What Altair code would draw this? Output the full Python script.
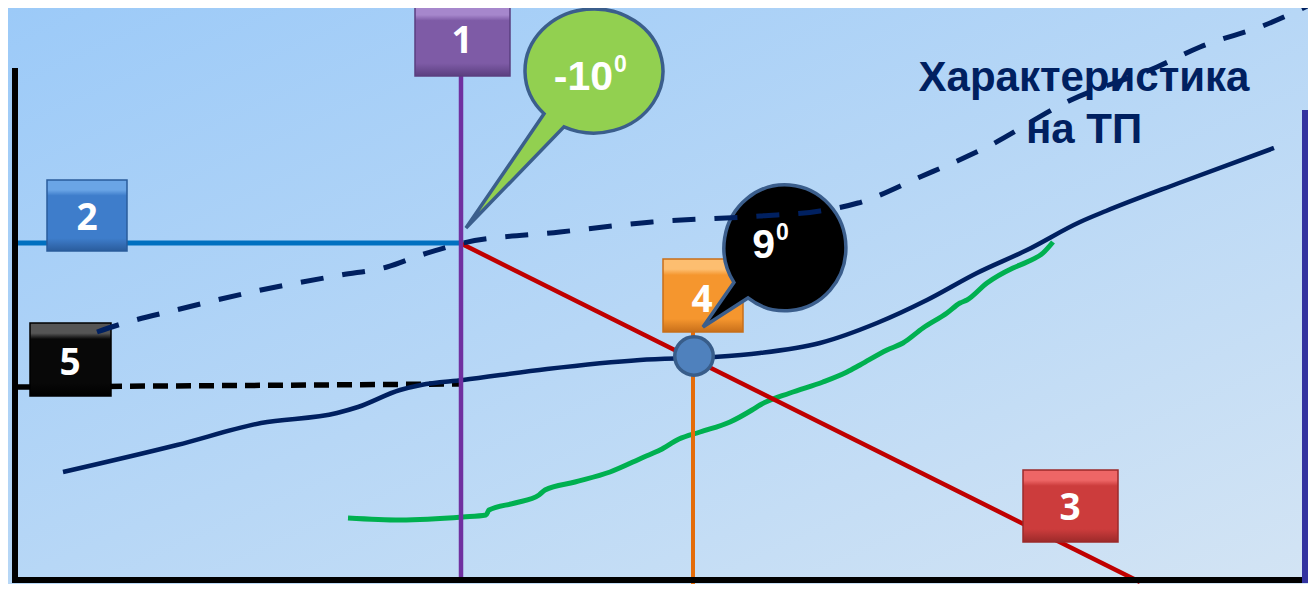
import altair as alt
import pandas as pd

# ---------------------------------------------------------------------------
# Data — x to the right, y upward from the bottom edge of the picture
# ---------------------------------------------------------------------------
# dashed navy curve (heating characteristic of the substation)
char_x = [97, 118, 180, 261, 341, 387, 421, 463, 560, 652, 760, 820, 858, 920,
          985, 1071, 1157, 1200, 1265, 1316]
char_y = [260, 267, 283, 302, 317, 325, 337, 349, 360, 370, 376, 381, 389, 415,
          444, 492, 525, 545, 567, 590]

# solid navy curve
solid_x = [63, 177, 261, 337, 358, 400, 421, 463, 547, 640, 713, 760, 820, 877,
           927, 977, 1027, 1080, 1106, 1179, 1274]
solid_y = [120, 147, 169, 179, 185, 202, 207, 212, 223, 232, 235, 239, 249, 269,
           292, 319, 342, 370, 381, 409, 444]

# green curve
green_x = [348, 400, 463, 486, 489, 515, 539, 545, 575, 610, 644, 660, 679, 700,
           730, 752, 760, 790, 823, 847, 860, 887, 903, 923, 947, 960, 967, 987,
           1013, 1027, 1043, 1053]
green_y = [74, 72, 75, 77, 82, 89, 97, 102, 110, 120, 135, 142, 153, 160,
           170, 182, 187, 199, 210, 220, 227, 242, 249, 264, 279, 289, 292, 309,
           324, 330, 339, 350]

# straight segments
seg_names = ["left_axis", "bottom_axis", "right_axis", "level_2", "vert_1",
             "vert_4", "line_3", "level_5"]
seg_x1 = [15, 12, 1305, 15, 461, 693, 460, 15]
seg_y1 = [524, 12, 482, 349, 517, 262, 349, 205]
seg_x2 = [15, 1308, 1305, 460, 461, 693, 1140, 460]
seg_y2 = [12, 12, 9, 349, 12, 0, 10, 208]

# operating point
pt_x = [694]
pt_y = [236]

# numbered boxes
box_labels = ["1", "2", "3", "4", "5"]
box_x1 = [415, 47, 1023, 663, 30]
box_x2 = [510, 127, 1118, 743, 111]
box_y1 = [516, 341, 50, 260, 196]
box_y2 = [587, 412, 122, 333, 269]
box_tx = [462, 87, 1070, 702, 70]
box_ty = [539, 362, 72, 280, 217]

# callouts
bub_names = ["green", "black"]
bub_x = [594, 785]
bub_y = [521, 344]
bub_main = ["-10", "9"]
bub_main_x = [613, 775]
bub_main_y = [502, 334]
bub_sup = ["0", "0"]
bub_sup_x = [614, 776]
bub_sup_y = [520, 352]

# caption
cap_lines = ["Характеристика", "на ТП"]
cap_x = [1084, 1084]
cap_y = [501, 449]

# ---------------------------------------------------------------------------
W, H = 1300, 576
xs = alt.Scale(domain=[8, 1308], nice=False, zero=False)
ys = alt.Scale(domain=[8, 584], nice=False, zero=False)


def X(f):
    return alt.X(f, type="quantitative", scale=xs, axis=None)


def Y(f):
    return alt.Y(f, type="quantitative", scale=ys, axis=None)


NAVY = "#002060"

bg_df = pd.DataFrame({"x": [8], "x2": [1308], "y": [8], "y2": [584]})
bg = alt.Chart(bg_df).mark_rect(
    color=alt.Gradient(
        gradient="linear",
        stops=[alt.GradientStop(offset=0, color="#9CCAF8"),
               alt.GradientStop(offset=0.5, color="#B7D7F6"),
               alt.GradientStop(offset=1, color="#D3E4F4")],
        x1=0, y1=0, x2=1, y2=1)
).encode(x=X("x"), x2="x2", y=Y("y"), y2="y2")

seg_df = pd.DataFrame({"name": seg_names, "x1": seg_x1, "y1": seg_y1,
                       "x2": seg_x2, "y2": seg_y2})


def seg(name, color, width, dash=None):
    kw = dict(color=color, strokeWidth=width, strokeCap="butt")
    if dash:
        kw["strokeDash"] = dash
    return alt.Chart(seg_df).transform_filter(
        alt.datum.name == name
    ).mark_rule(**kw).encode(x=X("x1"), y=Y("y1"), x2="x2", y2="y2")


def curve(xv, yv, color, width, dash=None):
    df = pd.DataFrame({"x": xv, "y": yv, "i": range(len(xv))})
    kw = dict(color=color, strokeWidth=width, interpolate="monotone",
              strokeCap="butt")
    if dash:
        kw["strokeDash"] = dash
    return alt.Chart(df).mark_line(**kw).encode(
        x=X("x"), y=Y("y"), order="i:Q")


level5 = seg("level_5", "#000000", 5.5, [15, 8])
solid = curve(solid_x, solid_y, NAVY, 4.5)
green = curve(green_x, green_y, "#00B050", 5)
red = seg("line_3", "#C00000", 4.5)
blue = seg("level_2", "#0070C0", 5)
purple = seg("vert_1", "#7030A0", 4.5)
orange = seg("vert_4", "#E46C0A", 4)
ax_l = seg("left_axis", "#000000", 6)
ax_b = seg("bottom_axis", "#000000", 6)
ax_r = seg("right_axis", "#3333A0", 6)

pt_df = pd.DataFrame({"x": pt_x, "y": pt_y})
point = alt.Chart(pt_df).mark_point(
    shape="circle", size=1480, filled=True, fill="#4F81BD", stroke="#385D8A",
    strokeWidth=3.5, opacity=1
).encode(x=X("x"), y=Y("y"))

box_df = pd.DataFrame({"label": box_labels, "x1": box_x1, "x2": box_x2,
                       "y1": box_y1, "y2": box_y2, "tx": box_tx, "ty": box_ty})
box_colors = {
    "1": ("#A687CC", "#7E5BA6", "#5B3F80"),
    "2": ("#6AA5E6", "#3E7DCB", "#2A5C9C"),
    "3": ("#EE6666", "#CC3C3C", "#9C2A2A"),
    "4": ("#FDBE70", "#F5962E", "#C86F1A"),
    "5": ("#555555", "#080808", "#000000"),
}
boxes = []
for lab in box_labels:
    light, base, dark = box_colors[lab]
    grad = alt.Gradient(
        gradient="linear",
        stops=[alt.GradientStop(offset=0, color=light),
               alt.GradientStop(offset=0.14, color=light),
               alt.GradientStop(offset=0.22, color=base),
               alt.GradientStop(offset=0.82, color=base),
               alt.GradientStop(offset=1, color=dark)],
        x1=0, y1=0, x2=0, y2=1)
    boxes.append(
        alt.Chart(box_df).transform_filter(alt.datum.label == lab).mark_rect(
            color=grad, stroke=dark, strokeWidth=1.5
        ).encode(x=X("x1"), x2="x2", y=Y("y1"), y2="y2")
    )
box_text = alt.Chart(box_df).mark_text(
    font="Liberation Sans Narrow, Open Sans, sans-serif", fontSize=37,
    fontWeight="bold", color="white", align="center", baseline="alphabetic"
).encode(x=X("tx"), y=Y("ty"), text="label:N")

GREEN_BUBBLE = ("M -0.757 0.648 L -1.94 2.38 L -0.455 0.846 "
                "A 1.045 0.94 0 1 0 -0.757 0.648 Z")
BLACK_BUBBLE = ("M -0.824 0.555 L -1.323 1.274 L -0.597 0.806 "
                "A 0.984 1.016 0 1 0 -0.824 0.555 Z")
bub_df = pd.DataFrame({"name": bub_names, "x": bub_x, "y": bub_y,
                       "main": bub_main, "mx": bub_main_x, "my": bub_main_y,
                       "sup": bub_sup, "sx": bub_sup_x, "sy": bub_sup_y})
bub_green = alt.Chart(bub_df).transform_filter(alt.datum.name == "green").mark_point(
    shape=GREEN_BUBBLE, size=132 * 132, filled=True, fill="#92D050",
    stroke="#3B5E8C", strokeWidth=3.5, opacity=1
).encode(x=X("x"), y=Y("y"))
bub_black = alt.Chart(bub_df).transform_filter(alt.datum.name == "black").mark_point(
    shape=BLACK_BUBBLE, size=124 * 124, filled=True, fill="#000000",
    stroke="#3B5E8C", strokeWidth=3.5, opacity=1
).encode(x=X("x"), y=Y("y"))
bub_main_t = alt.Chart(bub_df).mark_text(
    font="Liberation Sans, Arial, sans-serif", fontSize=41, fontWeight="bold",
    color="white", align="right", baseline="alphabetic"
).encode(x=X("mx"), y=Y("my"), text="main:N")
bub_sup_t = alt.Chart(bub_df).mark_text(
    font="Liberation Sans, Arial, sans-serif", fontSize=23, fontWeight="bold",
    color="white", align="left", baseline="alphabetic"
).encode(x=X("sx"), y=Y("sy"), text="sup:N")

cap_df = pd.DataFrame({"t": cap_lines, "x": cap_x, "y": cap_y})
caption = alt.Chart(cap_df).mark_text(
    font="Liberation Sans, Arial, sans-serif", fontSize=42, fontWeight="bold",
    color=NAVY, align="center", baseline="alphabetic"
).encode(x=X("x"), y=Y("y"), text="t:N")

charac = curve(char_x, char_y, NAVY, 5, [23, 19])

chart = alt.layer(
    bg, level5, solid, green, red, blue, purple, orange, ax_l, ax_b, ax_r,
    point, *boxes, box_text, bub_green, bub_black, bub_main_t, bub_sup_t,
    caption, charac
).properties(
    width=W, height=H, padding=0,
    autosize=alt.AutoSizeParams(type="none")
).configure_view(stroke=None).configure(background="#B7D7F6")

chart.save("out.html", embed_options={"renderer": "svg", "actions": False})
